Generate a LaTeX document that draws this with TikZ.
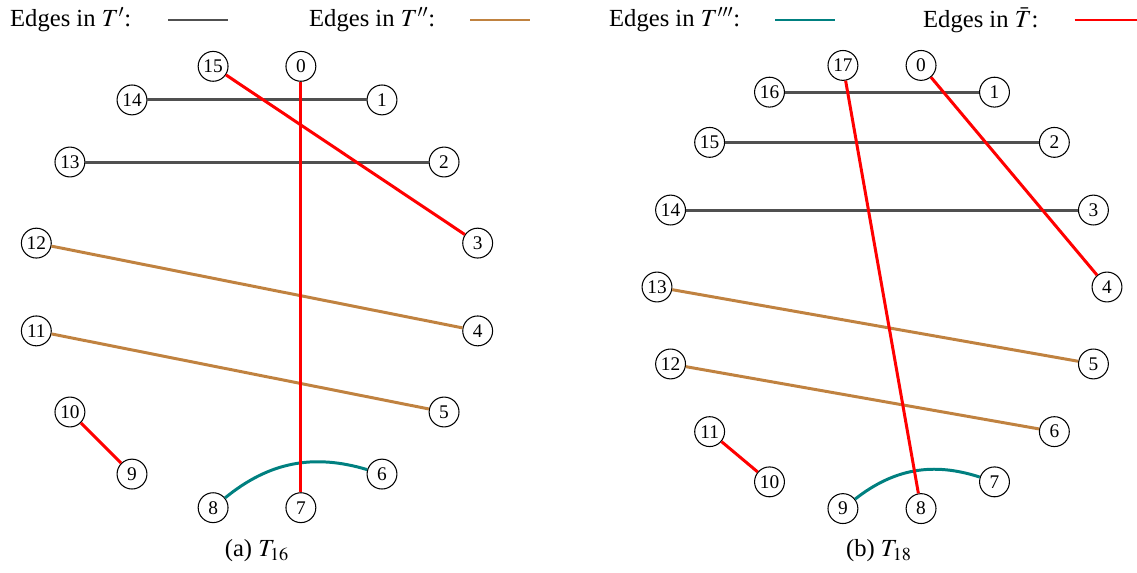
\documentclass[tikz,border=0pt]{standalone}
\usepackage{mathptmx}
\usepackage{fontspec}
\setmainfont{Liberation Serif}
\usepackage{tikz}
\usetikzlibrary{calc}

\definecolor{tgray}{RGB}{80,80,80}
\definecolor{tbrown}{RGB}{192,130,64}
\definecolor{tteal}{RGB}{0,128,128}

\begin{document}
\begin{tikzpicture}[x=0.02cm,y=-0.02cm,font=\fontsize{14}{16}\selectfont,
  vtx/.style={circle,draw,line width=0.6pt,minimum size=17pt,inner sep=0pt,font=\fontsize{11}{12}\selectfont},
  e1/.style={line width=1.7pt,tgray},
  e2/.style={line width=1.7pt,tbrown},
  e3/.style={line width=1.7pt,tteal},
  eb/.style={line width=1.7pt,red}]
  \useasboundingbox (0,0) rectangle (1137,572);
  % legend
  \node[anchor=west] (l1) at (4,20) {Edges in $T'$:};
  \node[anchor=west] (l2) at (303,20) {Edges in $T''$:};
  \node[anchor=west] (l3) at (603,20) {Edges in $T'''$:};
  \node[anchor=west] (l4) at (917,20) {Edges in $\bar{T}$:};
  \draw[e1] ([xshift=0.62cm]l1.east) -- ++(60,0);
  \draw[e2] ([xshift=0.58cm]l2.east) -- ++(60,0);
  \draw[e3] ([xshift=0.58cm]l3.east) -- ++(60,0);
  \draw[eb] ([xshift=0.6cm]l4.east) -- ++(62,0);
  % (a) T_16
  \foreach \i in {0,...,15}
    \node[vtx] (a\i) at ({257+225*sin(11.25+22.5*\i)},{287-225*cos(11.25+22.5*\i)}) {\i};
  \draw[e1] (a14) -- (a1);
  \draw[e1] (a13) -- (a2);
  \draw[e2] (a12) -- (a4);
  \draw[e2] (a11) -- (a5);
  \draw[e3] (a8) to[bend left=28] (a6);
  \draw[eb] (a15) -- (a3);
  \draw[eb] (a0) -- (a7);
  \draw[eb] (a10) -- (a9);
  \node (capa) at (257,551) {(a) $T_{16}$};
  % (b) T_18
  \foreach \i in {0,...,17}
    \node[vtx] (b\i) at ({882+225*sin(10+20*\i)},{287-225*cos(10+20*\i)}) {\i};
  \draw[e1] (b16) -- (b1);
  \draw[e1] (b15) -- (b2);
  \draw[e1] (b14) -- (b3);
  \draw[e2] (b13) -- (b5);
  \draw[e2] (b12) -- (b6);
  \draw[e3] (b9) to[bend left=28] (b7);
  \draw[eb] (b17) -- (b8);
  \draw[eb] (b0) -- (b4);
  \draw[eb] (b11) -- (b10);
  \node (capb) at (879,551) {(b) $T_{18}$};
\end{tikzpicture}
\end{document}
